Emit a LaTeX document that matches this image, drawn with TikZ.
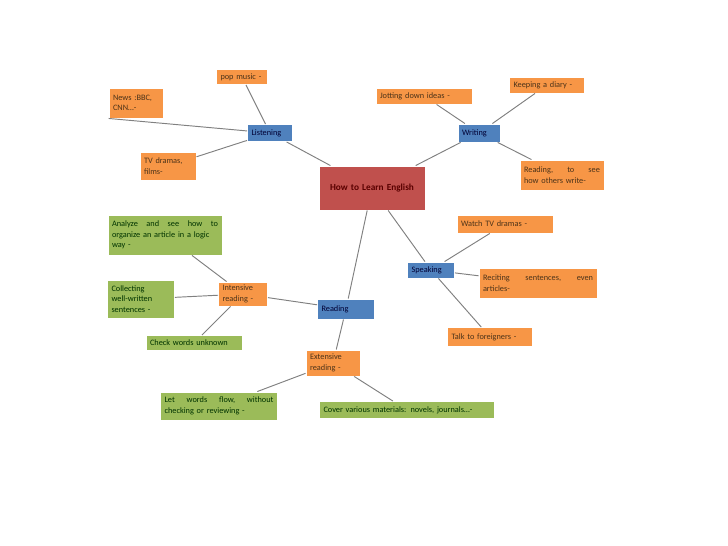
\documentclass[tikz,border=0pt]{standalone}
\usepackage{fontspec}
\setmainfont{Carlito}
\usetikzlibrary{shadows}

\definecolor{mapred}{RGB}{192,80,77}
\definecolor{mapblue}{RGB}{79,129,189}
\definecolor{maporange}{RGB}{247,150,70}
\definecolor{mapgreen}{RGB}{155,187,89}

\begin{document}
\begin{tikzpicture}[x=1pt,y=-1pt,
    card/.style={draw=white, line width=0.9pt, inner xsep=4pt, inner ysep=1pt,
      align=left, font=\fontsize{8.3}{10.5}\selectfont, text=black!80,
      drop shadow={opacity=0.25, shadow xshift=0.8pt, shadow yshift=-0.8pt}},
    wh/.style 2 args={minimum width=#1pt, minimum height=#2pt, text width=#1pt-8pt},
    hub/.style={card, fill=mapred, text=red!35!black, font=\fontsize{9.3}{11}\bfseries, align=center},
    topic/.style={card, fill=mapblue, text=blue!20!black},
    leaf/.style={card, fill=maporange, text=brown!40!black},
    detail/.style={card, fill=mapgreen, text=green!20!black},
    link/.style={draw=black!50, line width=0.95pt}]

    % page size
    \useasboundingbox (0,0) rectangle (728,546);

    % centre
    \node[hub, wh={106}{44}] (english) at (372,188) {How to Learn English};

    % listening
    \node[topic, wh={45}{17}] (listening) at (270,133) {Listening};
    \node[leaf, wh={51}{15}] (pop) at (242,77) {pop music -};
    \node[leaf, wh={54}{30}] (news) at (136,103) {News :BBC,\\CNN\dots-};
    \node[leaf, wh={56}{28}] (tv) at (168,166) {TV dramas,\\films-};

    % writing
    \node[topic, wh={42}{18}] (writing) at (479,133) {Writing};
    \node[leaf, wh={96}{16}] (jotting) at (424,96) {Jotting down ideas -};
    \node[leaf, wh={75}{16}] (diary) at (547,85) {Keeping a diary -};
    \node[leaf, wh={84}{30}] (others) at (562,175) {Reading,\hfill to\hfill see\\how others write-};

    % speaking
    \node[topic, wh={47}{16}] (speaking) at (431,270) {Speaking};
    \node[leaf, wh={96}{18}] (watch) at (505,224) {Watch TV dramas -};
    \node[leaf, wh={118}{30}] (reciting) at (538,283) {Reciting\hfill sentences,\hfill even\\articles-};
    \node[leaf, wh={85}{19}] (talk) at (490,337) {Talk to foreigners -};

    % reading
    \node[topic, wh={57}{20}] (reading) at (346,309) {Reading};
    \node[leaf, wh={49}{24}] (intensive) at (243,294) {Intensive\\reading -};
    \node[leaf, wh={54}{26}] (extensive) at (333,363) {Extensive\\reading -};
    \node[detail, wh={114}{40}] (analyze) at (165,235)
      {Analyze\hfill and\hfill see\hfill how\hfill to\\organize an article in a logic\\way -};
    \node[detail, wh={67}{38}] (collecting) at (141,299) {Collecting\\well-written\\sentences -};
    \node[detail, wh={96}{15}] (check) at (194,343) {Check words unknown};
    \node[detail, wh={117}{28}] (flow) at (219,406)
      {Let\hfill words\hfill flow,\hfill without\\checking or reviewing -};
    \node[detail, wh={175}{17}] (cover) at (407,410) {Cover various materials: novels, journals\dots-};

    % connectors
    \foreach \a/\b in {listening/english, writing/english, english/reading, english/speaking,
        pop/listening, tv/listening, jotting/writing, diary/writing, others/writing,
        watch/speaking, reciting/speaking, talk/speaking,
        intensive/reading, extensive/reading,
        analyze/intensive, collecting/intensive, check/intensive,
        flow/extensive, cover/extensive}
      \draw[link] (\a) -- (\b);
    \draw[link] (news.south west) -- (listening);
\end{tikzpicture}
\end{document}
